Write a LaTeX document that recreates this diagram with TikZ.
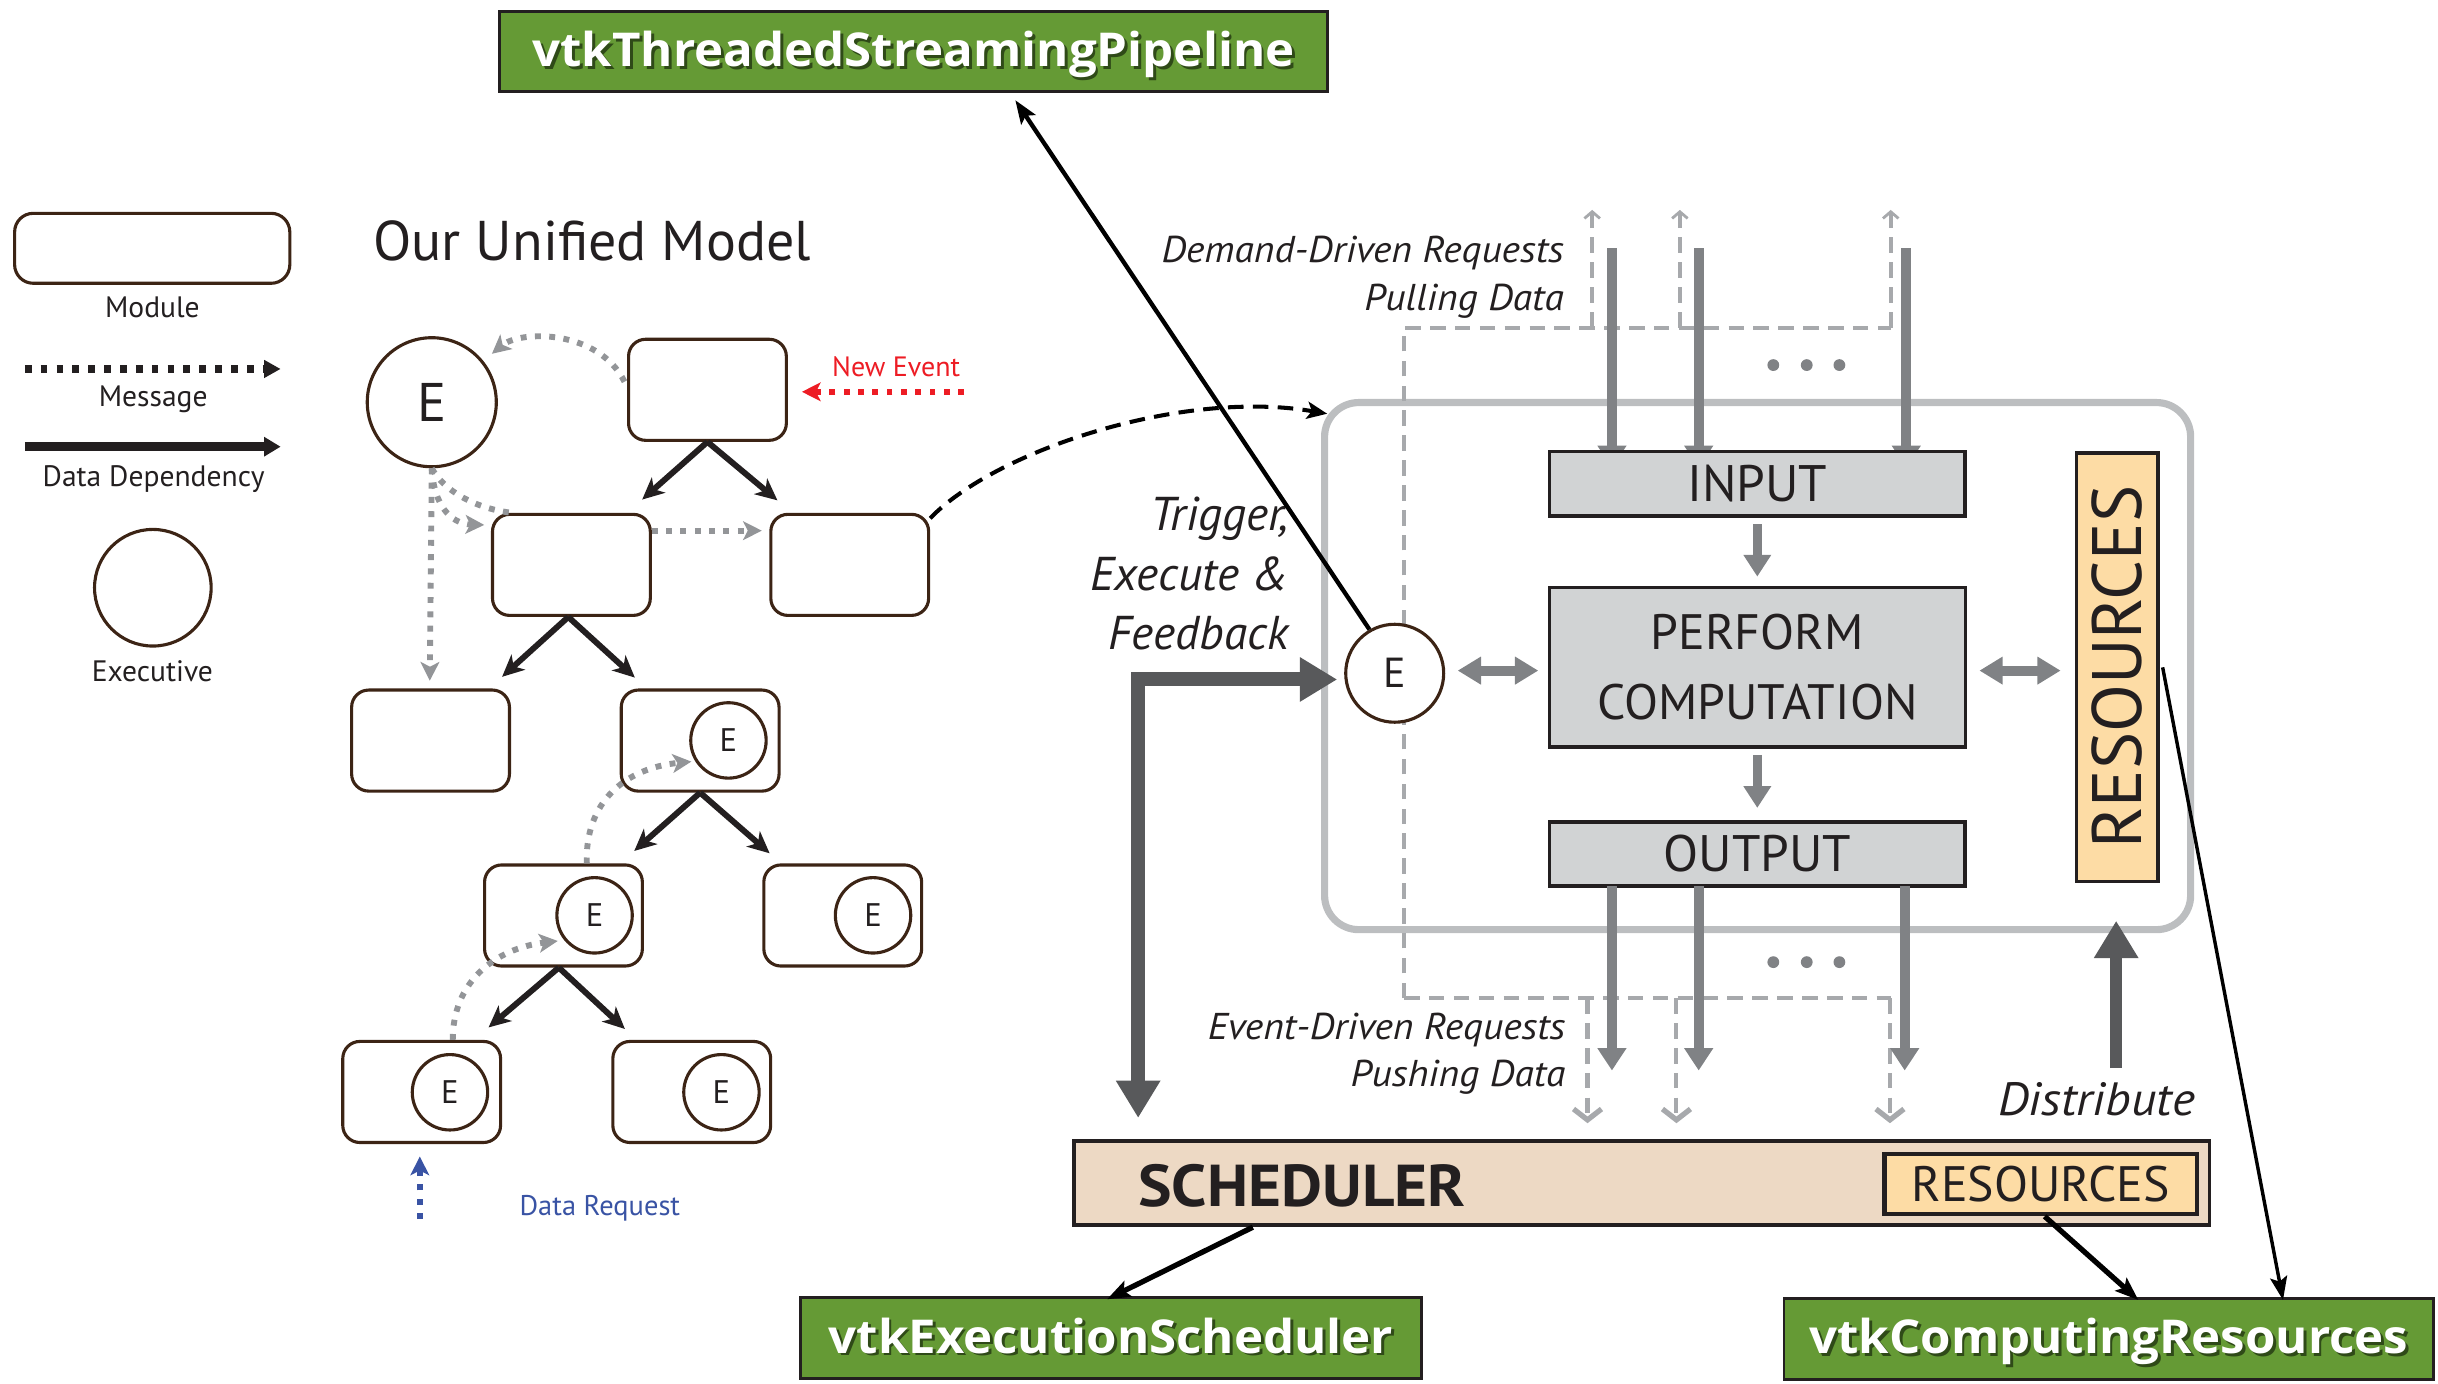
\documentclass[tikz,border=0pt]{standalone}
\usepackage{fontspec}
\setmainfont{PT Sans}
\newfontfamily\lblfont[FakeStretch=1.06]{PT Sans}
\newfontfamily\schedfont[FakeStretch=1.07]{PT Sans}
\newfontfamily\vtkfont[FakeStretch=1.055]{Open Sans}
\usetikzlibrary{arrows.meta,calc}

\definecolor{ink}{HTML}{231F20}
\definecolor{modbrown}{HTML}{3C2415}
\definecolor{msggray}{HTML}{939598}
\definecolor{evred}{HTML}{ED1C24}
\definecolor{reqblue}{HTML}{3953A4}
\definecolor{framegray}{HTML}{BCBEC0}
\definecolor{stagefill}{HTML}{D1D3D4}
\definecolor{flowgray}{HTML}{808285}
\definecolor{heavygray}{HTML}{58595B}
\definecolor{dashgray}{HTML}{A7A9AC}
\definecolor{schedfill}{HTML}{EDD9C4}
\definecolor{resfill}{HTML}{FDDCA5}
\definecolor{vtkgreen}{HTML}{659A35}
\definecolor{vtkshadow}{HTML}{2F4A18}

\newcommand\vtklabel[1]{\makebox[0pt][l]{\hspace{1.8pt}\raisebox{-1.8pt}{\textcolor{vtkshadow}{#1}}}\textcolor{white}{#1}}

\tikzset{
  module/.style={draw=modbrown, line width=2pt, rounded corners=11pt, fill=white,
    minimum width=101.5pt, minimum height=65pt, inner sep=0pt},
  exec/.style={circle, draw=modbrown, line width=2pt, fill=white, inner sep=0pt,
    minimum size=48.5pt, text=ink, font=\fontsize{21}{24}\selectfont},
  dep/.style={ink, line width=3.8pt, -{Stealth[length=14pt,width=13pt,inset=4pt]}},
  msg/.style={msggray, line width=3.8pt, dash pattern=on 3.8pt off 5.4pt,
    -{Stealth[length=12pt,width=12pt,inset=3pt]}},
  msgplain/.style={msggray, line width=3.8pt, dash pattern=on 3.8pt off 5.4pt},
  legtext/.style={text=ink, font=\fontsize{19}{22}\selectfont, inner sep=0pt},
  stage/.style={draw=ink, line width=2.2pt, fill=stagefill, inner sep=0pt,
    text=ink, font=\fontsize{33}{40}\selectfont},
  flow/.style={flowgray, line width=6pt, -{Triangle[length=14pt,width=17pt]}},
  feed/.style={flowgray, line width=6.6pt, -{Triangle[length=14.4pt,width=17.8pt]}},
  twoway/.style={flowgray, line width=6.4pt,
    {Triangle[length=15pt,width=17pt]}-{Triangle[length=15pt,width=17pt]}},
  reqdash/.style={dashgray, line width=2.6pt, dash pattern=on 10pt off 6pt},
  heavy/.style={heavygray, line width=9pt},
  sidelabel/.style={text=ink, inner sep=0pt, font=\lblfont\itshape\fontsize{24}{28}\selectfont},
  biglabel/.style={text=ink, inner sep=0pt, font=\itshape\fontsize{30.5}{34}\selectfont},
  gbox/.style={draw=ink, line width=1.8pt, fill=vtkgreen, inner sep=0pt,
    text height=19.5pt, text depth=0pt,
    minimum height=52pt, font=\vtkfont\bfseries\fontsize{30}{34}\selectfont},
  pointer/.style={black, line width=2.8pt, -{Stealth[length=15pt,width=11pt,inset=3pt]}},
}

\begin{document}
\begin{tikzpicture}[x=1pt, y=-1pt, line join=miter]
\useasboundingbox (0,0) rectangle (1568,890);

% ---------- legend ----------
\node[module, minimum width=177pt, minimum height=45pt, rounded corners=12pt] (legmod) at (97.9,159.7) {};
\node[legtext, anchor=base] (legmodlbl) at (98,204) {Module};
\coordinate (legmsgA) at (16,237.3);
\coordinate (legmsgB) at (180.5,237.3);
\draw[ink, line width=5.4pt, dash pattern=on 4.3pt off 5.9pt, -{Triangle[length=10.7pt,width=11pt]}] (legmsgA) -- (legmsgB);
\node[legtext, anchor=base] (legmsglbl) at (98.5,261.6) {Message};
\coordinate (legdepA) at (16,287.3);
\coordinate (legdepB) at (180.5,287.3);
\draw[ink, line width=6pt, -{Triangle[length=10.7pt,width=12pt]}] (legdepA) -- (legdepB);
\node[legtext, anchor=base] (legdeplbl) at (98.8,313) {Data Dependency};
\node[circle, draw=modbrown, line width=2pt, minimum size=75pt, inner sep=0pt] (legexec) at (98.3,378) {};
\node[legtext, anchor=base] (legexeclbl) at (98,438.6) {Executive};

% ---------- unified model ----------
\node[anchor=base west, inner sep=0pt, text=ink, font=\fontsize{36}{40}\selectfont] (title) at (240,167.4) {Our Unified Model};

\node[circle, draw=modbrown, line width=2pt, fill=white, inner sep=0pt, minimum size=83pt,
  text=ink, font=\fontsize{35}{40}\selectfont] (bigE) at (277.7,258.7) {E};

\node[module] (top) at (455,250.7) {};
\node[module] (ml) at (367.5,363.3) {};
\node[module] (mr) at (546.5,363.3) {};
\node[module] (r3l) at (276.9,476.3) {};
\node[module] (r3r) at (450.3,476.3) {};
\node[module] (r4l) at (362.4,588.8) {};
\node[module] (r4r) at (542,588.8) {};
\node[module] (r5l) at (271.2,702.3) {};
\node[module] (r5r) at (444.9,702.3) {};

\node[exec] (e3r) at (468.5,476.2) {E};
\node[exec] (e4l) at (382.4,588.7) {E};
\node[exec] (e4r) at (561.5,588.7) {E};
\node[exec] (e5l) at (289.4,702.5) {E};
\node[exec] (e5r) at (464,702.5) {E};

% data dependencies
\draw[dep] (top.south) -- ($(ml.north)+(45.5,-8.5)$);
\draw[dep] (top.south) -- ($(mr.north)+(-46.5,-8)$);
\draw[dep] ($(ml.south)+(-2,0)$) -- ($(r3l.north)+(46,-7.5)$);
\draw[dep] ($(ml.south)+(-2,0)$) -- ($(r3r.north)+(-42,-7)$);
\draw[dep] (r3r.south) -- ($(r4l.north)+(45.5,-8)$);
\draw[dep] (r3r.south) -- ($(r4r.north)+(-47,-6.5)$);
\draw[dep] ($(r4l.south)+(-3,0)$) -- ($(r5l.north)+(43,-8)$);
\draw[dep] ($(r4l.south)+(-3,0)$) -- ($(r5r.north)+(-43,-7)$);

% messages
\draw[msg] ($(top.west)+(-1.6,-5.2)$) .. controls (385,212) and (335,212) .. ($(bigE.45)+(8.6,-1.1)$);
\draw[msg] (bigE.south) -- ($(r3l.north)+(-0.5,-5)$);
\draw[msgplain] (bigE.south) .. controls (285,315) and (305,327) .. ($(ml.north west)+(13.3,0)$);
\draw[msg] (bigE.south) .. controls (279,325) and (290,337) .. ($(ml.west)+(-4.3,-25.7)$);
\draw[msg] ($(ml.east)+(0,-22)$) -- ($(mr.west)+(-4.8,-22)$);
\draw[msg] ($(r4l.north)+(15,0)$) .. controls (376,516) and (402,494) .. ($(e3r.210)+(-2,1)$);
\draw[msg] ($(r5l.north)+(20,0)$) .. controls (291,632) and (318,610) .. ($(e4l.215)+(-3,2)$);

\coordinate (evsrc) at (620,252);
\draw[evred, line width=3.8pt, dash pattern=on 3.8pt off 5.4pt, -{Stealth[length=12pt,width=12pt,inset=3pt]}] (evsrc) -- ($(top.east)+(9,1.3)$);
\node[anchor=base west, inner sep=0pt, text=evred, font=\fontsize{18}{21}\selectfont] (evlbl) at (535,242) {New Event};

\coordinate (reqsrc) at (270,784);
\draw[reqblue, line width=3.8pt, dash pattern=on 3.8pt off 5.4pt, -{Stealth[length=12pt,width=12pt,inset=3pt]}] (reqsrc) -- ($(r5l.south)+(-1.2,8)$);
\node[anchor=base west, inner sep=0pt, text=reqblue, font=\fontsize{18.3}{21}\selectfont] (reqlbl) at (334,782) {Data Request};

% ---------- executive and pipeline stages ----------
\node[draw=framegray, line width=4.6pt, rounded corners=22pt, minimum width=557pt, minimum height=339pt, inner sep=0pt] (frame) at (1130.4,428.4) {};

% request paths
\draw[reqdash] (903,642) -- (903,210.7) -- (1216,210.7);
\draw[reqdash] (903,642) -- (1216,642);
\foreach \x/\n in {1024/a,1080.4/b,1216/c}{
  \coordinate (up\n) at (\x,135);
  \draw[reqdash, -{Straight Barb[length=4.3pt,width=10pt,line width=1.8pt]}] (\x,210.7) -- (up\n);
}
\foreach \x/\n in {1021/a,1078.2/b,1215.5/c}{
  \coordinate (dn\n) at (\x,722.4);
  \draw[reqdash, -{Straight Barb[length=7pt,width=18pt,line width=3.4pt]}] (\x,642) -- (dn\n);
}

% streams entering the input stage (tips run under the box)
\foreach \x/\n in {1036.7/a,1092.5/b,1226/c}{
  \coordinate (in\n) at (\x,159.6);
  \draw[feed] (in\n) -- (\x,301);
}

\node[stage, minimum width=267pt, minimum height=41.5pt] (input) at (1130.2,311.2) {INPUT};
\node[stage, minimum width=267.5pt, minimum height=102.5pt, align=center,
  font=\fontsize{32}{45}\selectfont] (perf) at (1130.2,429.2) {PERFORM\\COMPUTATION};
\node[stage, minimum width=267pt, minimum height=41pt] (output) at (1130.2,549.2) {OUTPUT};
\node[draw=ink, line width=2.2pt, fill=resfill, minimum width=52.4pt, minimum height=275.6pt, inner sep=0pt,
  text=ink, font=\fontsize{45}{50}\selectfont] (resv) at (1361.6,429.2) {\rotatebox{90}{RESOURCES}};

\node[circle, draw=modbrown, line width=2pt, fill=white, inner sep=0pt, minimum size=63pt,
  text=ink, font=\fontsize{27}{30}\selectfont] (rE) at (897,433) {E};

\foreach \x/\n in {1036.7/a,1092.5/b,1225/c}{
  \coordinate (out\n) at (\x,688.5);
  \draw[feed] (\x,570) -- (out\n);
}
\foreach \x in {1140.5,1162,1183}{
  \fill[flowgray] (\x,234.8) circle (3.8pt);
  \fill[flowgray] (\x,618.8) circle (3.8pt);
}

\draw[flow] ($(input.south)+(0,4)$) -- ($(perf.north)+(0,-6)$);
\draw[flow] ($(perf.south)+(0,4)$) -- ($(output.north)+(0,-8)$);
\draw[twoway] ($(rE.east)+(8,-1.7)$) -- ($(perf.west)+(-6,2.1)$);
\draw[twoway] ($(perf.east)+(8,2.1)$) -- ($(resv.west)+(-9,2.1)$);

\node[sidelabel, anchor=base east] (ddl1) at (1006,169) {Demand-Driven Requests};
\node[sidelabel, anchor=base east] (ddl2) at (1006,199.5) {Pulling Data};
\node[sidelabel, anchor=base east] (edl1) at (1007,668.8) {Event-Driven Requests};
\node[sidelabel, anchor=base east] (edl2) at (1007,698.8) {Pushing Data};
\node[biglabel, anchor=base east] (trg1) at (829,341) {Trigger,};
\node[biglabel, anchor=base east] (trg2) at (829,379.5) {Execute \&};
\node[biglabel, anchor=base east] (trg3) at (829,418) {Feedback};
\node[biglabel, anchor=base east, font=\lblfont\itshape\fontsize{30}{34}\selectfont] (distlbl) at (1412,717.6) {Distribute};

% ---------- scheduler ----------
\node[draw=ink, line width=2.5pt, fill=schedfill, minimum width=730pt, minimum height=54pt, inner sep=0pt] (sched) at (1056,761) {};
\node[anchor=base west, inner sep=0pt, text=ink, font=\schedfont\bfseries\fontsize{38}{42}\selectfont] (schedlbl) at (732,776) {SCHEDULER};
\node[draw=ink, line width=2.6pt, fill=resfill, minimum width=201pt, minimum height=39pt, inner sep=0pt,
  text=ink, font=\fontsize{32}{36}\selectfont] (resin) at (1312.5,761.5) {RESOURCES};

\coordinate (trigfoot) at (732,719);
\draw[heavy, {Triangle[length=24pt,width=27pt]}-{Triangle[length=24pt,width=27pt]}] (trigfoot) |- ($(rE.west)+(-4.5,4)$);
\coordinate (distfoot) at (1361,687);
\draw[heavygray, line width=8pt, -{Triangle[length=24pt,width=27pt]}] (distfoot) -- ($(frame.south)+(230.6,-8)$);

% ---------- vtk classes ----------
\node[gbox, minimum width=533pt, minimum height=51.5pt] (gt) at (587.5,33.3) {\vtklabel{vtkThreadedStreamingPipeline}};
\node[gbox, minimum width=399pt] (ge) at (714.5,860.5) {\vtklabel{vtkExecutionScheduler}};
\node[gbox, minimum width=418pt] (gc) at (1356.3,861) {\vtklabel{vtkComputingResources}};

\draw[pointer] (rE.120) -- ($(gt.south)+(65.5,4.5)$);
\draw[pointer, line width=3.4pt] ($(sched.south west)+(116,0)$) -- ($(ge.north)+(-2.5,2)$);
\draw[pointer, line width=3.4pt] ($(resin.south)+(2.5,0)$) -- ($(gc.north)+(19,2)$);
\draw[pointer, line width=2.2pt] ($(resv.east)+(2,0)$) -- ($(gc.north)+(112,2)$);

% module output to the executive frame
\draw[black, line width=2.6pt, dash pattern=on 10pt off 6pt, -{Stealth[length=13pt,width=11pt,inset=3pt]}]
  ($(mr.east)+(0,-30)$) .. controls (640,290) and (760,250) .. ($(frame.north west)+(4,9.5)$);

\end{tikzpicture}
\end{document}
